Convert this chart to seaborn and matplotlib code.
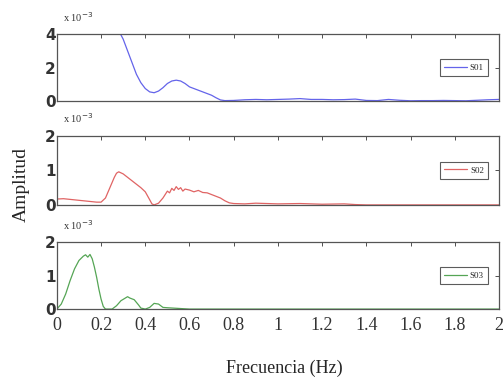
import matplotlib
matplotlib.use("Agg")
import matplotlib.pyplot as plt
import seaborn as sns
import pandas as pd
import numpy as np

# Frequency (Hz) and amplitude (x 10^-3)
f_blue = [0.0, 0.005, 0.05, 0.1, 0.15, 0.2, 0.25, 0.28, 0.30, 0.32, 0.34, 0.36, 0.38, 0.40,
          0.42, 0.44, 0.46, 0.48, 0.50, 0.52, 0.54, 0.56, 0.58, 0.60, 0.62, 0.64, 0.66, 0.68,
          0.70, 0.72, 0.74, 0.76, 0.80, 0.85, 0.90, 0.95, 1.0, 1.05, 1.10, 1.15, 1.2, 1.25,
          1.3, 1.35, 1.4, 1.45, 1.5, 1.55, 1.6, 1.65, 1.7, 1.75, 1.8, 1.85, 1.9, 1.95, 2.0]
a_blue = [0.0, 9.0, 9.0, 8.5, 7.5, 6.5, 5.0, 4.2, 3.7, 3.0, 2.3, 1.6, 1.1, 0.75,
          0.55, 0.5, 0.6, 0.8, 1.05, 1.2, 1.25, 1.2, 1.05, 0.85, 0.75, 0.65, 0.55, 0.45,
          0.35, 0.2, 0.07, 0.03, 0.04, 0.08, 0.1, 0.08, 0.1, 0.12, 0.15, 0.1, 0.1, 0.08,
          0.09, 0.12, 0.04, 0.03, 0.1, 0.05, 0.02, 0.03, 0.03, 0.04, 0.03, 0.02, 0.05, 0.08, 0.1]

f_red = [0.0, 0.03, 0.06, 0.09, 0.12, 0.15, 0.18, 0.20, 0.22, 0.24, 0.26, 0.27, 0.28, 0.30,
         0.32, 0.34, 0.36, 0.38, 0.40, 0.42, 0.43, 0.44, 0.46, 0.48, 0.49, 0.50, 0.51, 0.52,
         0.53, 0.54, 0.55, 0.56, 0.57, 0.58, 0.60, 0.62, 0.64, 0.66, 0.68, 0.70, 0.72, 0.74,
         0.76, 0.78, 0.80, 0.85, 0.9, 1.0, 1.1, 1.2, 1.3, 1.35, 1.4, 1.6, 1.8, 2.0]
a_red = [0.17, 0.18, 0.16, 0.14, 0.12, 0.1, 0.08, 0.08, 0.2, 0.5, 0.8, 0.92, 0.96, 0.9,
         0.8, 0.7, 0.6, 0.5, 0.38, 0.15, 0.03, 0.0, 0.05, 0.2, 0.3, 0.4, 0.35, 0.48,
         0.42, 0.53, 0.45, 0.5, 0.4, 0.46, 0.43, 0.38, 0.42, 0.36, 0.35, 0.3, 0.25, 0.2,
         0.12, 0.06, 0.04, 0.03, 0.05, 0.03, 0.04, 0.02, 0.03, 0.01, 0.0, 0.0, 0.0, 0.0]

f_green = [0.0, 0.02, 0.04, 0.06, 0.08, 0.10, 0.12, 0.13, 0.14, 0.15, 0.16, 0.17, 0.18, 0.19,
           0.20, 0.21, 0.22, 0.25, 0.27, 0.29, 0.31, 0.32, 0.33, 0.35, 0.37, 0.38, 0.40, 0.42,
           0.44, 0.46, 0.48, 0.50, 0.55, 0.6, 0.8, 1.0, 1.5, 2.0]
a_green = [0.0, 0.15, 0.45, 0.85, 1.2, 1.45, 1.58, 1.62, 1.55, 1.63, 1.5, 1.25, 0.95, 0.6,
           0.3, 0.08, 0.0, 0.0, 0.1, 0.25, 0.33, 0.37, 0.33, 0.28, 0.12, 0.03, 0.0, 0.05,
           0.17, 0.15, 0.05, 0.04, 0.02, 0.0, 0.0, 0.0, 0.0, 0.0]

labels = ["S01", "S02", "S03"]
colors = ["#6464ea", "#e06464", "#55a555"]
ylims = [(0, 4), (0, 2), (0, 2)]
yticks = [[0, 2, 4], [0, 1, 2], [0, 1, 2]]
xticks = [0, 0.2, 0.4, 0.6, 0.8, 1, 1.2, 1.4, 1.6, 1.8, 2]
xtick_labels = ["0", "0.2", "0.4", "0.6", "0.8", "1", "1.2", "1.4", "1.6", "1.8", "2"]

sns.set_style("white")
plt.rcParams["font.family"] = ["Liberation Serif", "DejaVu Serif"]

fig = plt.figure(figsize=(5.03, 3.83), dpi=100)
positions = [[0.113, 0.736, 0.879, 0.175],
             [0.113, 0.465, 0.879, 0.180],
             [0.113, 0.193, 0.879, 0.175]]

series = [(f_blue, a_blue), (f_red, a_red), (f_green, a_green)]
for i, ((fx, fy), pos) in enumerate(zip(series, positions)):
    ax = fig.add_axes(pos)
    df = pd.DataFrame({"f": fx, "a": fy})
    sns.lineplot(data=df, x="f", y="a", ax=ax, color=colors[i], linewidth=0.9, label=labels[i])
    ax.set_xlim(0, 2)
    ax.set_ylim(*ylims[i])
    ax.set_yticks(yticks[i])
    ax.set_yticklabels([str(t) for t in yticks[i]], fontsize=11, family="DejaVu Sans", weight="bold")
    ax.set_xticks(xticks)
    if i == 2:
        ax.set_xticklabels(xtick_labels, fontsize=13)
    else:
        ax.set_xticklabels([])
    ax.tick_params(axis="y", pad=1)
    ax.tick_params(axis="x", pad=6)
    ax.tick_params(direction="in", top=True, right=True, length=3, width=0.6,
                   colors="#333333")
    for s in ax.spines.values():
        s.set_color("#555555")
        s.set_linewidth(0.9)
    ax.set_xlabel("")
    ax.set_ylabel("")
    leg = ax.legend(loc="center right", bbox_to_anchor=(0.985, 0.5), fontsize=6.5,
                    frameon=True, fancybox=False, edgecolor="#333333",
                    handlelength=2.6, borderpad=0.45, handletextpad=0.3)
    leg.get_frame().set_linewidth(0.8)
    ax.text(0.014, 1.26, r"x 10$^{-3}$", transform=ax.transAxes, fontsize=7.5,
            ha="left", va="center", color="#333333")

fig.text(0.565, 0.038, "Frecuencia (Hz)", ha="center", va="center", fontsize=13)
fig.text(0.042, 0.517, "Amplitud", ha="center", va="center", rotation=90, fontsize=14)

fig.savefig("out.png", dpi=100)
